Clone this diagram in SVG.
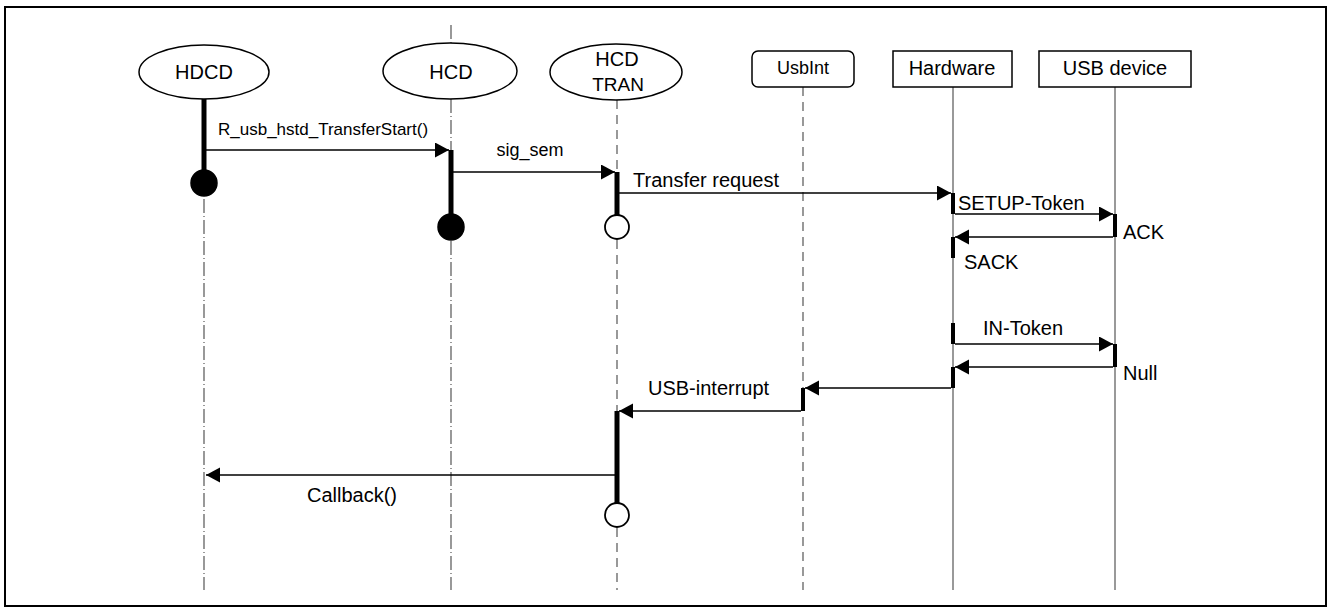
<svg xmlns="http://www.w3.org/2000/svg" width="1328" height="610" viewBox="0 0 1328 610">
<style>
text{font-family:"Liberation Sans",Arial,sans-serif;fill:#000}
.hd{font-size:20px;text-anchor:middle}
.lb{font-size:20px}
.shape{fill:#fff;stroke:#000;stroke-width:1.5}
.dd{stroke:#555;stroke-width:1.2;stroke-dasharray:14 3 1 3;fill:none}
.da{stroke:#555;stroke-width:1.2;stroke-dasharray:9 6;fill:none}
.so{stroke:#555;stroke-width:1.2;fill:none}
.act{stroke:#000;stroke-width:5;fill:none}
.act2{stroke:#000;stroke-width:4;fill:none}
.msg{stroke:#000;stroke-width:1.6;fill:none;marker-end:url(#ah)}
.end{fill:#000;stroke:#000;stroke-width:1.5}
.open{fill:#fff;stroke:#000;stroke-width:1.8}
</style>
<defs>
<marker id="ah" markerUnits="userSpaceOnUse" markerWidth="15" markerHeight="16" refX="14" refY="7.5" orient="auto">
<path d="M0,0 L14,7.5 L0,15 z" fill="#000"/>
</marker>
</defs>
<rect x="5" y="7" width="1321" height="599" fill="#fff" stroke="#000" stroke-width="2"/>

<g id="node-hdcd">
<path class="dd" d="M204,199 V590"/>
<path class="act" d="M204,99 V172"/>
<circle class="end" cx="204" cy="183" r="13"/>
<ellipse class="shape" cx="204" cy="72" rx="65" ry="27"/>
<text class="hd" x="204" y="79">HDCD</text>
</g>

<g id="node-hcd">
<path class="dd" d="M451,25 V43 M451,99 V150 M451,241 V590"/>
<path class="act" d="M451,150 V215"/>
<circle class="end" cx="451" cy="227" r="13"/>
<ellipse class="shape" cx="450" cy="71" rx="67" ry="28"/>
<text class="hd" x="451" y="79">HCD</text>
</g>

<g id="node-hcdtran">
<path class="da" d="M617,100 V172 M617,240 V411 M617,528 V590"/>
<path class="act" d="M617,172 V215 M617,411 V503"/>
<circle class="open" cx="617" cy="227" r="12"/>
<circle class="open" cx="617" cy="515" r="12"/>
<ellipse class="shape" cx="616" cy="72" rx="66" ry="28"/>
<text class="hd" x="617" y="66">HCD</text>
<text class="hd" x="618" y="91" style="font-size:19px">TRAN</text>
</g>

<g id="node-usbint">
<path class="da" d="M803,87 V590"/>
<path class="act2" d="M803,388 V411"/>
<rect class="shape" x="752" y="51" width="102" height="36" rx="6"/>
<text class="hd" x="803" y="74" style="font-size:18px">UsbInt</text>
</g>

<g id="node-hardware">
<path class="so" d="M953,87 V590"/>
<path class="act2" d="M953,193 V214 M953,237 V258 M953,323 V344 M953,367 V388"/>
<rect class="shape" x="893" y="51" width="119" height="36"/>
<text class="hd" x="952" y="75">Hardware</text>
</g>

<g id="node-usbdevice">
<path class="so" d="M1115,87 V590"/>
<path class="act2" d="M1115,214 V237 M1115,344 V367"/>
<rect class="shape" x="1039" y="51" width="152" height="36"/>
<text class="hd" x="1115" y="75">USB device</text>
</g>

<g id="connectors">
<path class="msg" d="M206,150 H449"/>
<path class="msg" d="M453,172 H615"/>
<path class="msg" d="M619,193 H951"/>
<path class="msg" d="M955,214 H1113"/>
<path class="msg" d="M1113,237 H955"/>
<path class="msg" d="M955,344 H1113"/>
<path class="msg" d="M1113,367 H955"/>
<path class="msg" d="M951,388 H805"/>
<path class="msg" d="M801,411 H619"/>
<path class="msg" d="M615,475 H206"/>
</g>

<g id="labels">
<text class="lb" x="218" y="135" style="font-size:17px">R_usb_hstd_TransferStart()</text>
<text class="lb" x="530" y="156" style="font-size:18px;text-anchor:middle">sig_sem</text>
<text class="lb" x="633" y="187">Transfer request</text>
<text class="lb" x="958" y="210">SETUP-Token</text>
<text class="lb" x="1123" y="239">ACK</text>
<text class="lb" x="964" y="269">SACK</text>
<text class="lb" x="983" y="335">IN-Token</text>
<text class="lb" x="1123" y="380">Null</text>
<text class="lb" x="648" y="395">USB-interrupt</text>
<text class="lb" x="307" y="502">Callback()</text>
</g>
</svg>
